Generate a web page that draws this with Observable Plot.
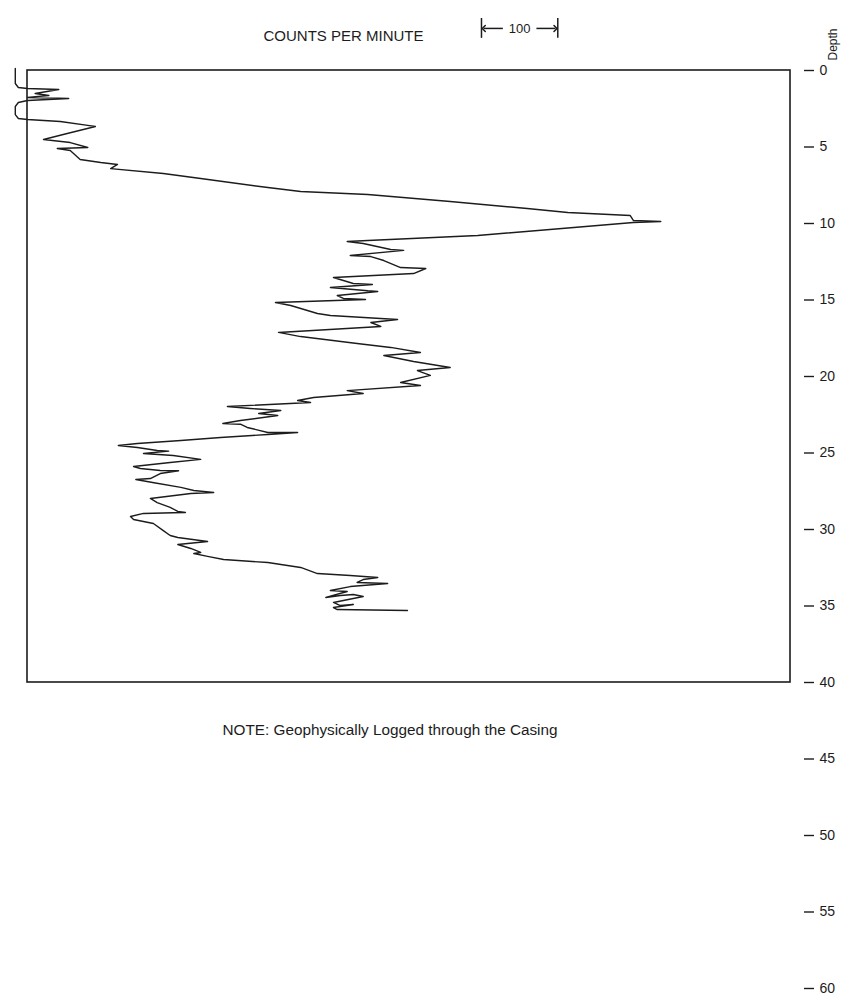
<!DOCTYPE html>
<html>
<head>
<meta charset="utf-8">
<script src="https://cdn.jsdelivr.net/npm/d3@7"></script>
<script src="https://cdn.jsdelivr.net/npm/@observablehq/plot@0.6"></script>
<style>
  html, body { margin: 0; padding: 0; background: #fff; }
  #chart svg { display: block; }
</style>
</head>
<body>
<div id="chart"></div>
<script>
// Depth of each trace vertex (same units as the right axis)
const depth = [
  -0.13, 0.85, 1.11, 1.18, 1.24, 1.50, 1.63, 1.76, 1.83, 1.96,
  2.09, 2.35, 2.88, 3.14, 3.20, 3.33, 3.59, 3.66, 4.12, 4.51,
  4.71, 5.03, 5.10, 5.23, 5.82, 6.01, 6.14, 6.41, 6.73, 7.06,
  7.65, 7.91, 8.10, 8.56, 9.02, 9.28, 9.48, 9.80, 9.87, 9.93,
  10.26, 10.78, 11.11, 11.18, 11.31, 11.70, 11.76, 12.09, 12.16, 12.42,
  12.88, 12.94, 13.27, 13.53, 13.92, 13.99, 14.18, 14.40, 14.44, 14.71,
  14.90, 14.97, 15.16, 15.36, 15.88, 16.01, 16.27, 16.47, 16.73, 17.12,
  17.39, 17.84, 18.10, 18.43, 18.63, 19.02, 19.41, 19.61, 19.93, 20.39,
  20.59, 20.92, 21.11, 21.37, 21.57, 21.70, 21.96, 22.09, 22.22, 22.42,
  22.55, 22.88, 23.07, 23.12, 23.33, 23.66, 23.66, 23.79, 23.99, 24.18,
  24.38, 24.51, 24.64, 24.84, 24.88, 25.03, 25.16, 25.42, 25.62, 25.88,
  26.01, 26.14, 26.16, 26.34, 26.67, 26.73, 26.93, 27.25, 27.45, 27.58,
  27.65, 27.97, 28.24, 28.56, 28.82, 28.89, 28.91, 28.95, 29.15, 29.35,
  29.61, 30.07, 30.39, 30.52, 30.78, 30.98, 31.24, 31.50, 31.57, 31.76,
  31.96, 32.16, 32.48, 32.88, 33.01, 33.14, 33.27, 33.46, 33.53, 33.73,
  33.99, 34.05, 34.44, 34.31, 34.25, 34.38, 34.77, 34.97, 34.90, 35.10,
  35.23, 35.29
];
// Counts per minute at each vertex (relative to the left edge of the log frame)
const counts = [
  -16, -16, -12, 0, 41, 10, 28, 0, 54, 0,
  -12, -16, -16, -12, 0, 43, 79, 89, 52, 21,
  56, 79, 39, 56, 69, 96, 118, 109, 178, 227,
  315, 358, 446, 554, 655, 708, 790, 794, 830, 794,
  716, 590, 446, 419, 440, 476, 493, 423, 450, 467,
  489, 522, 506, 401, 427, 452, 397, 446, 459, 406,
  414, 443, 325, 345, 380, 397, 485, 450, 463, 329,
  358, 432, 476, 515, 467, 506, 554, 511, 528, 489,
  515, 419, 440, 375, 354, 371, 262, 292, 332, 303,
  328, 279, 256, 279, 288, 315, 354, 315, 253, 201,
  144, 119, 144, 170, 185, 152, 191, 227, 187, 139,
  148, 174, 198, 174, 161, 142, 164, 201, 218, 244,
  214, 161, 170, 187, 197, 207, 191, 152, 135, 139,
  165, 178, 187, 197, 236, 197, 214, 227, 218, 236,
  257, 315, 358, 380, 423, 459, 440, 432, 472, 423,
  397, 419, 391, 410, 427, 440, 401, 410, 427, 401,
  406, 498
];
const depthTicks = [0, 5, 10, 15, 20, 25, 30, 35, 40, 45, 50, 55, 60];
const depthDomain = [0, 60];
const loggedDepth = [0, 40];        // depth span of the log frame
const countsRange = [0, 1000];      // counts span of the log frame
const scaleBarCounts = [595, 695];  // the "|<- 100 ->|" scale bar
const scaleBarDepth = -2.75;
const scaleBarLabel = "100";
const xTitle = "COUNTS PER MINUTE";
const yTitle = "Depth";
const note = "NOTE: Geophysically Logged through the Casing";

// ---- Build tables ----
const trace = depth.map((d, i) => ({depth: d, counts: counts[i]}));
const frameRows = [{x1: countsRange[0], x2: countsRange[1], y1: loggedDepth[0], y2: loggedDepth[1]}];
const barMid = (scaleBarCounts[0] + scaleBarCounts[1]) / 2;
const barEnds = scaleBarCounts.map(c => ({c, top: scaleBarDepth - 0.65, bottom: scaleBarDepth + 0.65}));
const barArrows = [
  {from: barMid - 22, to: scaleBarCounts[0] + 3, d: scaleBarDepth},
  {from: barMid + 22, to: scaleBarCounts[1] - 3, d: scaleBarDepth}
];
const barLabel = [{c: barMid, d: scaleBarDepth, t: scaleBarLabel}];

const font = "'Liberation Sans', Arial, sans-serif";
const ink = "#1c1c1c";

const chart = Plot.plot({
  width: 867,
  height: 1000,
  marginLeft: 27,
  marginRight: 77,
  marginTop: 70,
  marginBottom: 12,
  style: {fontFamily: font, background: "#fff", color: ink},
  x: {domain: countsRange, axis: null},
  y: {domain: depthDomain, reverse: true, axis: null},
  marks: [
    Plot.rect(frameRows, {x1: "x1", x2: "x2", y1: "y1", y2: "y2", fill: "none", stroke: ink, strokeWidth: 1.6}),
    Plot.axisY(depthTicks, {
      anchor: "right", dx: 13, tickSize: 10, tickPadding: 6, strokeWidth: 1.4,
      fontSize: 14, label: null, tickFormat: d => String(d), fill: ink, stroke: ink
    }),
    Plot.line(trace, {x: "counts", y: "depth", stroke: ink, strokeWidth: 1.4, strokeLinejoin: "round"}),
    // Scale bar
    Plot.ruleX(barEnds, {x: "c", y1: "top", y2: "bottom", stroke: ink, strokeWidth: 1.5}),
    Plot.link(barArrows, {x1: "from", x2: "to", y1: "d", y2: "d", stroke: ink, strokeWidth: 1.5, markerEnd: "arrow"}),
    Plot.text(barLabel, {x: "c", y: "d", text: "t", fontSize: 13, fill: ink}),
    // Titles and note
    Plot.text([xTitle], {text: d => d, frameAnchor: "top-left", dx: 236, dy: -40, textAnchor: "start",
      fontSize: 15, fill: ink}),
    Plot.text([yTitle], {text: d => d, frameAnchor: "top-right", dx: 38, dy: -42, rotate: -90,
      fontSize: 12, fill: ink}),
    Plot.text([note], {text: d => d, frameAnchor: "top-left", dx: 195, dy: 654, textAnchor: "start",
      fontSize: 15.3, fill: ink})
  ]
});
document.getElementById("chart").append(chart);
</script>
</body>
</html>
